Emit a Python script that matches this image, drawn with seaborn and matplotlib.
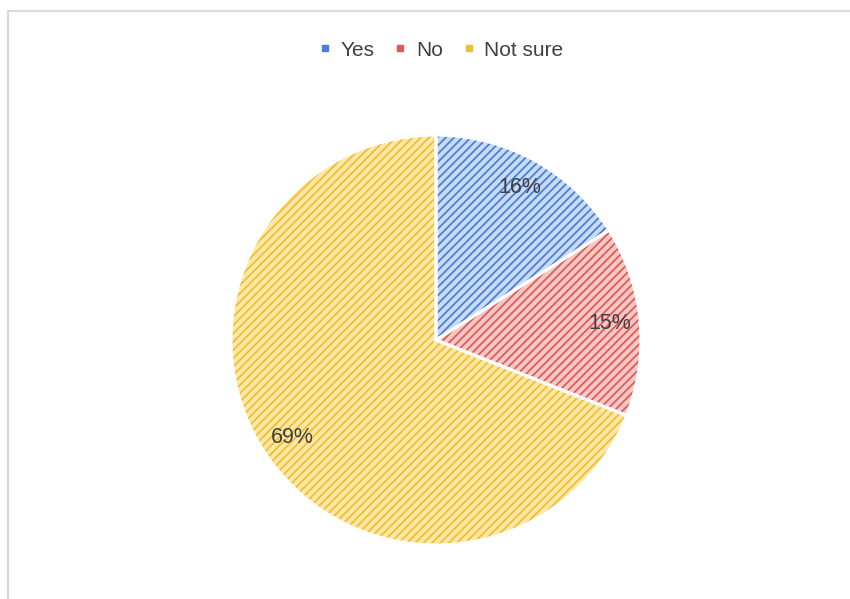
import matplotlib
matplotlib.use("Agg")
import matplotlib.pyplot as plt
import seaborn as sns
from matplotlib.lines import Line2D
from matplotlib.patches import Rectangle

categories = ["Yes", "No", "Not sure"]
values = [16, 15, 69]
line_colors = ["#4A7FD6", "#E05A5A", "#F2BE2C"]
face_colors = ["#C9DAF5", "#F7C9C6", "#FBE7A8"]

sns.set_theme(style="white")
plt.rcParams['font.family'] = ['Liberation Sans', 'DejaVu Sans']
plt.rcParams['hatch.linewidth'] = 1.3

fig = plt.figure(figsize=(8.5, 5.99), dpi=100)
fig.patch.set_facecolor("white")

# outer frame
fig.patches.append(Rectangle((8 / 850, -0.05), 1.0, (599 - 11) / 599 + 0.05,
                             transform=fig.transFigure, fill=False,
                             edgecolor="#D9D9D9", linewidth=1.5))

ax = fig.add_axes([231 / 850, 54 / 599, 410 / 850, 410 / 599])

# base fill
ax.pie(values, colors=face_colors, startangle=90, counterclock=False,
       radius=1, wedgeprops=dict(linewidth=0))
# hatch overlay
wedges, _ = ax.pie(values, colors=face_colors, startangle=90, counterclock=False,
                   radius=1, wedgeprops=dict(linewidth=0, fill=False))
for w, lc in zip(wedges, line_colors):
    w.set_hatch("////")
    w.set_edgecolor(lc)
# white separators + labels
w3, texts, autotexts = ax.pie(values, startangle=90, counterclock=False, radius=1,
                              autopct=lambda p: f"{p:.0f}%", pctdistance=0.85,
                              wedgeprops=dict(fill=False, edgecolor="white", linewidth=2.2),
                              textprops=dict(color="#404040", fontsize=15.5))
ax.set_xlim(-1, 1)
ax.set_ylim(-1, 1)
ax.set_aspect("equal")
ax.axis("off")

handles = [Line2D([0], [0], marker="s", linestyle="none", markersize=4.5,
                  markerfacecolor=c, markeredgecolor=c) for c in line_colors]
fig.legend(handles, categories, loc="center", bbox_to_anchor=(442 / 850, 1 - 50 / 599),
           ncol=3, frameon=False, fontsize=15, labelcolor="#404040",
           handlelength=0.4, handletextpad=0.55, columnspacing=1.05)

fig.savefig("out.png", dpi=100, facecolor="white")
